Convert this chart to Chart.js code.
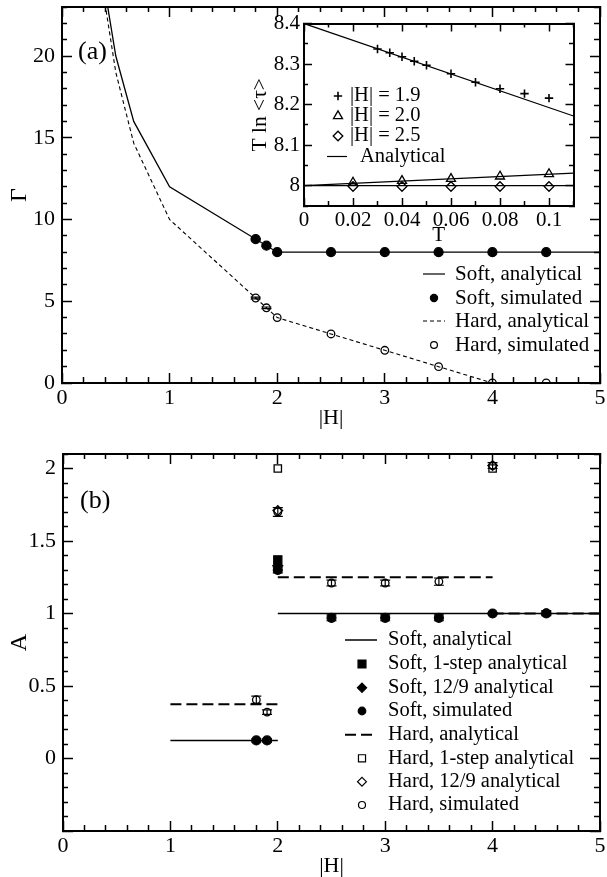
<!DOCTYPE html>
<html><head><meta charset="utf-8">
<script src="https://cdn.jsdelivr.net/npm/chart.js@4.4.1/dist/chart.umd.min.js"></script>
<style>
html,body{margin:0;padding:0;background:#fff;overflow:hidden;width:607px;height:877px;position:relative}
canvas{position:absolute;display:block}
</style></head><body>
<canvas id="ca" width="607" height="440" style="left:0;top:0;width:607px;height:440px"></canvas>
<canvas id="ci" width="345" height="250" style="left:235px;top:10px;width:345px;height:250px"></canvas>
<canvas id="cb" width="607" height="450" style="left:0;top:440px;width:607px;height:450px"></canvas>
<script>
// ---------- Panel (a): Gamma vs |H| ----------
const softAnalH = [0.4, 0.5, 2/3, 1, 2, 5];
const softAnalG = [24, 20, 16, 12, 8, 8];
const hardAnalH = [0.4, 0.5, 2/3, 1, 2, 2.5, 3, 3.5, 4, 5];
const hardAnalG = [23.2, 19, 14.67, 10, 4, 3, 2, 1, 0, 0];
const simH      = [1.8, 1.9, 2, 2.5, 3, 3.5, 4, 4.5];
const softSimG  = [8.8, 8.4, 8, 8, 8, 8, 8, 8];
const softSimGErr = [0.05, 0.05, 0.03, 0, 0, 0, 0, 0];
const hardSimG  = [5.2, 4.6, 4, 3, 2, 1, 0, 0];
const hardSimGErr = [0.05, 0.05, 0, 0, 0, 0, 0, 0];

// ---------- Inset: T ln<tau> vs T ----------
const insetT19 = [0.03, 0.035, 0.04, 0.045, 0.05, 0.06, 0.07, 0.08, 0.09, 0.1];
const insetV19 = [8.337, 8.328, 8.318, 8.307, 8.297, 8.276, 8.255, 8.239, 8.227, 8.216];
const insetT   = [0.02, 0.04, 0.06, 0.08, 0.1];
const insetV20 = [8.008, 8.012, 8.017, 8.023, 8.029];
const insetV25 = [7.998, 7.998, 7.998, 7.998, 7.998];
const anaT     = [0, 0.11];
const ana19    = [8.4, 8.172];
const ana20    = [8.0, 8.031];
const ana25    = [8.0, 8.0];

// ---------- Panel (b): A vs |H| ----------
const softAnalBH = [1, 2, 2, 2, 5];
const softAnalBA = [0.125, 0.125, null, 1, 1];
const soft1H = [2];
const soft1A = [1.37];
const soft129H = [2];
const soft129A = [1.33];
const softSimBA = [0.125, 0.125, 1.30, 0.97, 0.97, 0.97, 1.0, 1.0];
const softSimBErr = [0.01, 0.01, 0.02, 0.02, 0.02, 0.02, 0.005, 0.015];
const hardAnalBH = [1, 2, 2, 2, 4, 4, 4, 5];
const hardAnalBA = [0.375, 0.375, null, 1.25, 1.25, null, 1, 1];
const hard1H = [2, 4];
const hard1A = [2.0, 2.0];
const hard129H = [2, 4];
const hard129A = [1.71, 2.02];
const hardSimBA = [0.405, 0.32, 1.70, 1.21, 1.21, 1.22, 2.02, 1.005];
const hardSimBErr = [0.025, 0.015, 0.03, 0.02, 0.02, 0.025, 0.02, 0.015];

const xTicksMain = {min: 0, max: 5, minor: 0.2, major: 1};
const yTicksA = {min: 0, max: 23, minor: 1, major: 5};
const yTicksB = {min: -0.5, max: 2.1, minor: 0.1, major: 0.5};
const xTicksInset = {min: 0, max: 0.11, minor: 0.01, major: 0.02};
const yTicksInset = {min: 7.95, max: 8.4, minor: 0.05, major: 0.1};

// ---------- helpers ----------
const FONT = "'Liberation Serif','Times New Roman',serif";
const xy = (xs, ys) => xs.map((x, i) => ({x: x, y: ys[i]}));
function isMul(v, m) { const r = v / m; return Math.abs(r - Math.round(r)) < 1e-6; }
function fmt(v) { return String(parseFloat(v.toFixed(4))); }

function frameScale(o) {
  const horiz = o.pos === 'top' || o.pos === 'bottom';
  const startsInner = o.pos === 'top' || o.pos === 'left';
  const len = o.lmaj + 1;
  const minorDash = startsInner ? [0, len - o.lmin, o.lmin + 4, 100] : [o.lmin + 1, 100];
  return {
    type: 'linear', position: o.pos, min: o.t.min, max: o.t.max,
    ticks: {
      stepSize: o.t.minor, autoSkip: false, includeBounds: false, display: !!o.labels,
      maxRotation: 0, minRotation: 0, padding: o.labPad || 0, color: '#000',
      font: {family: FONT, size: o.fontSize || 21},
      callback: v => (isMul(v, o.t.major) && (!o.filter || o.filter(v))) ? fmt(v) : ''
    },
    grid: {
      display: true, drawOnChartArea: false, drawTicks: true, tickLength: -o.lmaj,
      tickColor: '#000', tickWidth: 1.5,
      tickBorderDash: c => (c.tick && isMul(c.tick.value, o.t.major)) ? [] : minorDash
    },
    border: {display: true, color: '#000', width: 2},
    title: o.title ? {display: true, text: o.title, color: '#000',
      font: {family: FONT, size: o.titleSize || o.fontSize || 21}, padding: o.titlePad} : {display: false},
    afterFit: s => {
      if (horiz) s.height = o.size; else s.width = o.size;
      s.paddingTop = 0; s.paddingBottom = 0; s.paddingLeft = 0; s.paddingRight = 0;
    }
  };
}

function drawSym(ctx, s, cx, cy) {
  ctx.save();
  ctx.strokeStyle = '#000'; ctx.fillStyle = '#000';
  ctx.lineWidth = s.lw || 1.2;
  ctx.setLineDash(s.dash || []);
  ctx.beginPath();
  const r = s.r || 4;
  if (s.kind === 'line') {
    ctx.moveTo(s.x1, cy); ctx.lineTo(s.x2, cy); ctx.stroke(); ctx.restore(); return;
  }
  if (s.kind === 'circle') ctx.arc(cx, cy, r, 0, Math.PI * 2);
  else if (s.kind === 'rect') { const h = r * Math.SQRT1_2; ctx.rect(cx - h, cy - h, 2 * h, 2 * h); }
  else if (s.kind === 'rectRot') { ctx.moveTo(cx - r, cy); ctx.lineTo(cx, cy - r); ctx.lineTo(cx + r, cy); ctx.lineTo(cx, cy + r); ctx.closePath(); }
  else if (s.kind === 'triangle') {
    for (let k = 0; k < 3; k++) { const a = k * 2 * Math.PI / 3; const px = cx + Math.sin(a) * r, py = cy - Math.cos(a) * r; k ? ctx.lineTo(px, py) : ctx.moveTo(px, py); }
    ctx.closePath();
  } else if (s.kind === 'cross') { ctx.moveTo(cx - r, cy); ctx.lineTo(cx + r, cy); ctx.moveTo(cx, cy - r); ctx.lineTo(cx, cy + r); }
  if (s.fill) ctx.fill();
  ctx.stroke();
  ctx.restore();
}

function legendPlugin(id, items, fontSize) {
  return {id, afterDraw(chart) {
    const ctx = chart.ctx;
    items.forEach(it => {
      drawSym(ctx, it.sym, it.sx, it.y);
      ctx.save();
      ctx.font = fontSize + 'px ' + FONT; ctx.fillStyle = '#000';
      ctx.textBaseline = 'middle'; ctx.textAlign = 'left';
      ctx.fillText(it.text, it.tx, it.y);
      ctx.restore();
    });
  }};
}

function errorPlugin(id, specs) {
  return {id, afterDatasetsDraw(chart) {
    const ctx = chart.ctx, xs = chart.scales.x, ys = chart.scales.y;
    ctx.save(); ctx.strokeStyle = '#000'; ctx.lineWidth = 1.2; ctx.beginPath();
    specs.forEach(s => s.x.forEach((xv, i) => {
      const e = s.err[i]; if (!e) return;
      const px = xs.getPixelForValue(xv);
      const p1 = ys.getPixelForValue(s.y[i] + e), p2 = ys.getPixelForValue(s.y[i] - e);
      ctx.moveTo(px, p1); ctx.lineTo(px, p2);
      ctx.moveTo(px - s.cap, p1); ctx.lineTo(px + s.cap, p1);
      ctx.moveTo(px - s.cap, p2); ctx.lineTo(px + s.cap, p2);
    }));
    ctx.stroke(); ctx.restore();
  }};
}

function textPlugin(id, text, x, y, size) {
  return {id, afterDraw(chart) {
    const ctx = chart.ctx; ctx.save();
    ctx.font = size + 'px ' + FONT; ctx.fillStyle = '#000';
    ctx.textBaseline = 'middle'; ctx.textAlign = 'left';
    ctx.fillText(text, x, y); ctx.restore();
  }};
}

const baseOpts = {
  responsive: false, animation: false, devicePixelRatio: 1, events: [],
  plugins: {legend: {display: false}, tooltip: {enabled: false}}
};

function lineDs(label, data, w, dash) {
  return {label, data, showLine: true, borderColor: '#000', borderWidth: w, borderDash: dash || [],
    pointRadius: 0, fill: false, spanGaps: false, tension: 0};
}
function ptDs(label, data, style, r, filled, bw) {
  return {label, data, showLine: false, pointStyle: style, pointRadius: r,
    pointBorderColor: '#000', pointBackgroundColor: filled ? '#000' : 'rgba(0,0,0,0)',
    pointBorderWidth: bw || 1.2};
}

// ---------- Chart (a) ----------
new Chart(document.getElementById('ca'), {
  type: 'scatter',
  data: {datasets: [
    lineDs('Soft, analytical', xy(softAnalH, softAnalG), 1.3),
    ptDs('Soft, simulated', xy(simH, softSimG), 'circle', 4.5, true),
    lineDs('Hard, analytical', xy(hardAnalH, hardAnalG), 1.1, [4, 3]),
    ptDs('Hard, simulated', xy(simH, hardSimG), 'circle', 3.8, false, 1.3)
  ]},
  options: Object.assign({}, baseOpts, {
    layout: {padding: {top: 7, right: 7, left: 0, bottom: 0}},
    scales: {
      x: frameScale({pos: 'bottom', t: xTicksMain, labels: true, size: 57, lmaj: 10, lmin: 6, fontSize: 22, labPad: 11.8, title: '|H|', titlePad: 8.8}),
      x2: frameScale({pos: 'top', t: xTicksMain, labels: false, size: 0, lmaj: 10, lmin: 6}),
      y: frameScale({pos: 'left', t: yTicksA, labels: true, size: 62, lmaj: 10, lmin: 6, fontSize: 22, labPad: 17, title: 'Γ', titleSize: 24, titlePad: 5.6}),
      y2: frameScale({pos: 'right', t: yTicksA, labels: false, size: 0, lmaj: 10, lmin: 6})
    }
  }),
  plugins: [
    errorPlugin('errA', [{x: simH, y: softSimG, err: softSimGErr, cap: 5}, {x: simH, y: hardSimG, err: hardSimGErr, cap: 5}]),
    legendPlugin('legA', [
      {text: 'Soft, analytical', y: 274, sx: 0, tx: 455, sym: {kind: 'line', x1: 423, x2: 445, lw: 1.2}},
      {text: 'Soft, simulated', y: 298, sx: 434, tx: 455, sym: {kind: 'circle', r: 3.6, fill: true}},
      {text: 'Hard, analytical', y: 321, sx: 0, tx: 455, sym: {kind: 'line', x1: 423, x2: 445, lw: 1.1, dash: [4, 3]}},
      {text: 'Hard, simulated', y: 345, sx: 434, tx: 455, sym: {kind: 'circle', r: 3.4, fill: false}}
    ], 21),
    textPlugin('labA', '(a)', 78, 52, 26)
  ]
});

// ---------- Inset ----------
new Chart(document.getElementById('ci'), {
  type: 'scatter',
  data: {datasets: [
    lineDs('Analytical 1.9', xy(anaT, ana19), 1.2),
    lineDs('Analytical 2.0', xy(anaT, ana20), 1.2),
    lineDs('Analytical 2.5', xy(anaT, ana25), 1.2),
    ptDs('|H| = 1.9', xy(insetT19, insetV19), 'cross', 4.2, false, 1.6),
    ptDs('|H| = 2.0', xy(insetT, insetV20), 'triangle', 5.2, false, 1.3),
    ptDs('|H| = 2.5', xy(insetT, insetV25), 'rectRot', 4.8, false, 1.3)
  ]},
  options: Object.assign({}, baseOpts, {
    layout: {padding: {top: 13.5, right: 6, left: 0, bottom: 0}},
    scales: {
      x: frameScale({pos: 'bottom', t: xTicksInset, labels: true, size: 54, lmaj: 8, lmin: 5, fontSize: 21, labPad: 9.4, title: 'T', titlePad: 12.4}),
      x2: frameScale({pos: 'top', t: xTicksInset, labels: false, size: 0, lmaj: 8, lmin: 5}),
      y: frameScale({pos: 'left', t: yTicksInset, labels: true, size: 69, lmaj: 8, lmin: 5, fontSize: 21, labPad: 12, title: 'T ln <τ>', titleSize: 21.5, titlePad: 12.2}),
      y2: frameScale({pos: 'right', t: yTicksInset, labels: false, size: 0, lmaj: 8, lmin: 5})
    }
  }),
  plugins: [
    legendPlugin('legI', [
      {text: '|H| = 1.9', y: 86, sx: 103, tx: 115, sym: {kind: 'cross', r: 4.2, lw: 1.6}},
      {text: '|H| = 2.0', y: 106, sx: 103, tx: 115, sym: {kind: 'triangle', r: 5.2, lw: 1.3}},
      {text: '|H| = 2.5', y: 126, sx: 103, tx: 115, sym: {kind: 'rectRot', r: 4.8, lw: 1.3}},
      {text: 'Analytical', y: 146.5, sx: 0, tx: 125, sym: {kind: 'line', x1: 92, x2: 112, lw: 1.2}}
    ], 20.5)
  ]
});

// ---------- Chart (b) ----------
new Chart(document.getElementById('cb'), {
  type: 'scatter',
  data: {datasets: [
    lineDs('Soft, analytical', xy(softAnalBH, softAnalBA), 1.5),
    ptDs('Soft, 1-step analytical', xy(soft1H, soft1A), 'rect', 5.8, true),
    ptDs('Soft, 12/9 analytical', xy(soft129H, soft129A), 'rectRot', 5, true),
    ptDs('Soft, simulated', xy(simH, softSimBA), 'circle', 4.5, true),
    lineDs('Hard, analytical', xy(hardAnalBH, hardAnalBA), 2, [11, 5]),
    ptDs('Hard, 1-step analytical', xy(hard1H, hard1A), 'rect', 5.2, false, 1.3),
    ptDs('Hard, 12/9 analytical', xy(hard129H, hard129A), 'rectRot', 4.8, false, 1.3),
    ptDs('Hard, simulated', xy(simH, hardSimBA), 'circle', 3.8, false, 1.3)
  ]},
  options: Object.assign({}, baseOpts, {
    layout: {padding: {top: 14, right: 6, left: 0, bottom: 0}},
    scales: {
      x: frameScale({pos: 'bottom', t: xTicksMain, labels: true, size: 59, lmaj: 10, lmin: 6, fontSize: 22, labPad: 11.8, title: '|H|', titlePad: 10.8}),
      x2: frameScale({pos: 'top', t: xTicksMain, labels: false, size: 0, lmaj: 10, lmin: 6}),
      y: frameScale({pos: 'left', t: yTicksB, labels: true, size: 63, lmaj: 10, lmin: 6, fontSize: 22, labPad: 17, title: 'A', titleSize: 24, titlePad: 5.6, filter: v => v >= 0}),
      y2: frameScale({pos: 'right', t: yTicksB, labels: false, size: 0, lmaj: 10, lmin: 6})
    }
  }),
  plugins: [
    errorPlugin('errB', [{x: simH, y: softSimBA, err: softSimBErr, cap: 5}, {x: simH, y: hardSimBA, err: hardSimBErr, cap: 5}]),
    legendPlugin('legB', [
      {text: 'Soft, analytical', y: 200, sx: 0, tx: 388, sym: {kind: 'line', x1: 345, x2: 377, lw: 1.5}},
      {text: 'Soft, 1-step analytical', y: 224, sx: 362, tx: 388, sym: {kind: 'rect', r: 5.6, fill: true}},
      {text: 'Soft, 12/9 analytical', y: 247.7, sx: 362, tx: 388, sym: {kind: 'rectRot', r: 4.6, fill: true}},
      {text: 'Soft, simulated', y: 271, sx: 362, tx: 388, sym: {kind: 'circle', r: 3.8, fill: true}},
      {text: 'Hard, analytical', y: 294.7, sx: 0, tx: 388, sym: {kind: 'line', x1: 345, x2: 377, lw: 2, dash: [11, 5]}},
      {text: 'Hard, 1-step analytical', y: 318.3, sx: 362, tx: 388, sym: {kind: 'rect', r: 5, fill: false}},
      {text: 'Hard, 12/9 analytical', y: 341.7, sx: 362, tx: 388, sym: {kind: 'rectRot', r: 4.4, fill: false}},
      {text: 'Hard, simulated', y: 365, sx: 362, tx: 388, sym: {kind: 'circle', r: 3.5, fill: false}}
    ], 20.5),
    textPlugin('labB', '(b)', 80, 61, 26)
  ]
});
</script>
</body></html>
